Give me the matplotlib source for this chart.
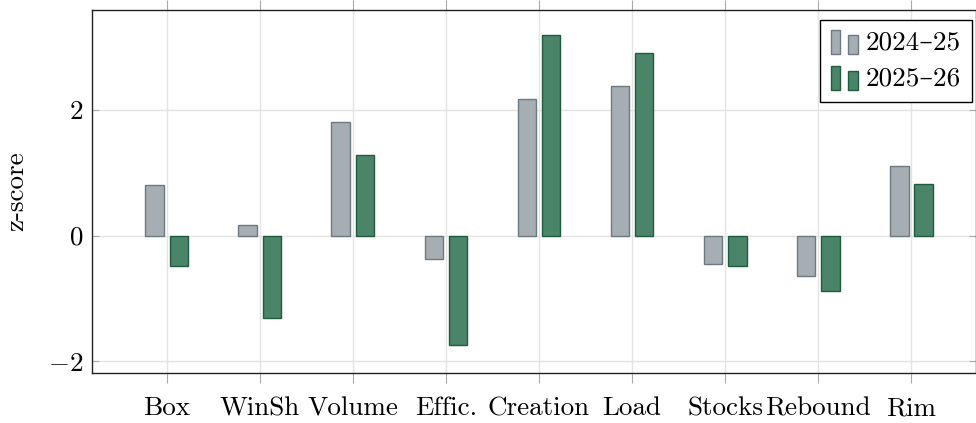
import matplotlib
matplotlib.use("Agg")
import matplotlib.pyplot as plt
import numpy as np
from matplotlib.patches import Rectangle
from matplotlib.legend_handler import HandlerBase

plt.rcParams['font.family'] = ['cmr10', 'DejaVu Serif']
plt.rcParams['mathtext.fontset'] = 'cm'
plt.rcParams['axes.formatter.use_mathtext'] = True

categories = ["Box", "WinSh", "Volume", "Effic.", "Creation", "Load", "Stocks", "Rebound", "Rim"]
series_names = ["2024\u201325", "2025\u201326"]
vals_2024 = [0.80, 0.17, 1.81, -0.38, 2.17, 2.39, -0.45, -0.65, 1.11]
vals_2025 = [-0.48, -1.31, 1.29, -1.75, 3.19, 2.90, -0.48, -0.89, 0.82]
yticks = [-2, 0, 2]

fills = ["#a7aeb3", "#4a8469"]
edges = ["#6b7a80", "#1f5c3d"]
FS = 19.5


class BarPairHandler(HandlerBase):
    def create_artists(self, legend, orig_handle, xdescent, ydescent, width, height, fontsize, trans):
        fc = orig_handle.get_facecolor()
        ec = orig_handle.get_edgecolor()
        w = width * 0.35
        r1 = Rectangle((-xdescent, -ydescent - height * 0.2), w, height * 1.25,
                       facecolor=fc, edgecolor=ec, lw=1.0, transform=trans)
        r2 = Rectangle((-xdescent + width * 0.65, -ydescent - height * 0.2), w, height * 0.98,
                       facecolor=fc, edgecolor=ec, lw=1.0, transform=trans)
        return [r1, r2]


fig = plt.figure(figsize=(9.76, 4.23), dpi=100)
ax = fig.add_axes([0.094, 0.118, 0.9055, 0.858])

x = np.arange(len(categories))
bw = 0.2
b1 = ax.bar(x - 0.13, vals_2024, bw, color=fills[0], edgecolor=edges[0], lw=1.0,
            label=series_names[0], zorder=3)
b2 = ax.bar(x + 0.13, vals_2025, bw, color=fills[1], edgecolor=edges[1], lw=1.0,
            label=series_names[1], zorder=3)

ax.set_xlim(-0.806, 8.69)
ax.set_ylim(-2.19, 3.59)
ax.set_xticks(x)
ax.set_xticklabels(categories, fontsize=FS)
ax.set_yticks(yticks)
ax.set_yticklabels([r"$-2$", r"$0$", r"$2$"], fontsize=FS)
ax.set_ylabel("z-score", fontsize=FS, labelpad=14)

ax.grid(True, color="#e3e3e3", lw=1.0, zorder=0)
ax.set_axisbelow(True)
ax.tick_params(axis="x", direction="out", length=7, color="#aaaaaa", top=True, bottom=True, pad=10)
ax.tick_params(axis="y", direction="in", length=5, color="#aaaaaa", left=True, right=True, pad=6)
for s in ax.spines.values():
    s.set_color("#222222")
    s.set_linewidth(1.0)

leg = ax.legend(handles=[b1.patches[0], b2.patches[0]], labels=series_names,
                handler_map={matplotlib.patches.Rectangle: BarPairHandler()},
                loc="upper right", bbox_to_anchor=(972 / 976, 1 - 20 / 423),
                bbox_transform=fig.transFigure, borderaxespad=0,
                fontsize=FS, frameon=True, fancybox=False,
                edgecolor="black", framealpha=1, handlelength=1.0, handletextpad=0.3,
                borderpad=0.4, labelspacing=0.45)
leg.get_frame().set_linewidth(1.0)

fig.savefig("out.png", dpi=100)
